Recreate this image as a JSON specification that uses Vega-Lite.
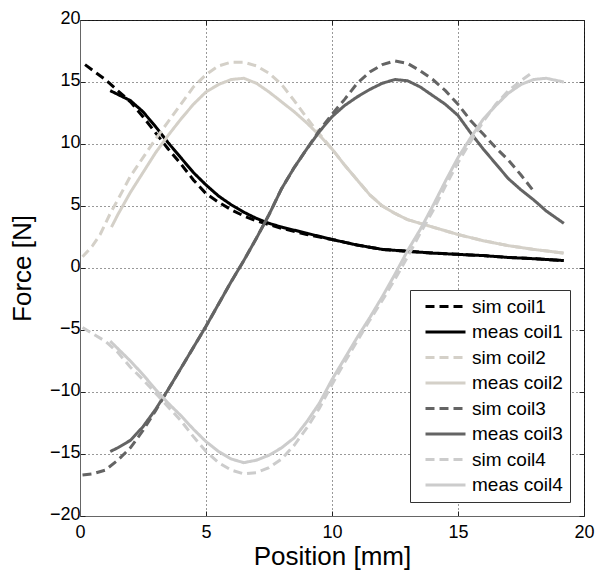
{
  "$schema": "https://vega.github.io/schema/vega-lite/v6.json",
  "width": 504,
  "height": 496,
  "autosize": {"type": "none"},
  "padding": {"left": 80, "top": 20, "right": 13, "bottom": 54},
  "background": "white",
  "config": {
    "view": {"stroke": "#222", "strokeWidth": 1},
    "font": "Liberation Sans",
    "axis": {
      "labelFont": "Liberation Sans",
      "titleFont": "Liberation Sans",
      "labelFontSize": 18,
      "titleFontSize": 26,
      "titleFontWeight": "normal",
      "labelColor": "#000",
      "titleColor": "#000",
      "domainColor": "#666",
      "tickColor": "#222",
      "tickSize": -5,
      "gridColor": "#000",
      "gridDash": [1, 3],
      "gridOpacity": 0.8,
      "gridWidth": 1
    }
  },
  "data": {"values": [
    {"s":"sim coil1","x":0.2,"y":16.4},{"s":"sim coil1","x":0.6,"y":15.8},{"s":"sim coil1","x":1.0,"y":15.2},{"s":"sim coil1","x":1.5,"y":14.3},{"s":"sim coil1","x":2.0,"y":13.4},{"s":"sim coil1","x":2.5,"y":12.2},{"s":"sim coil1","x":3.0,"y":10.9},{"s":"sim coil1","x":3.5,"y":9.6},{"s":"sim coil1","x":4.0,"y":8.4},{"s":"sim coil1","x":4.5,"y":7.1},{"s":"sim coil1","x":5.0,"y":6.0},{"s":"sim coil1","x":5.5,"y":5.3},{"s":"sim coil1","x":6.0,"y":4.7},{"s":"sim coil1","x":6.5,"y":4.2},{"s":"sim coil1","x":7.0,"y":3.8},{"s":"sim coil1","x":7.5,"y":3.5},{"s":"sim coil1","x":8.0,"y":3.2},{"s":"sim coil1","x":9.0,"y":2.7},{"s":"sim coil1","x":10.0,"y":2.3},{"s":"sim coil1","x":11.0,"y":1.85},{"s":"sim coil1","x":12.0,"y":1.5},{"s":"sim coil1","x":13.0,"y":1.35},{"s":"sim coil1","x":14.0,"y":1.2},{"s":"sim coil1","x":15.0,"y":1.1},{"s":"sim coil1","x":16.0,"y":1.0},{"s":"sim coil1","x":17.0,"y":0.85},{"s":"sim coil1","x":18.0,"y":0.75},{"s":"sim coil1","x":19.2,"y":0.6},

    {"s":"meas coil1","x":1.2,"y":14.3},{"s":"meas coil1","x":1.5,"y":14.0},{"s":"meas coil1","x":2.0,"y":13.5},{"s":"meas coil1","x":2.5,"y":12.6},{"s":"meas coil1","x":3.0,"y":11.4},{"s":"meas coil1","x":3.5,"y":10.1},{"s":"meas coil1","x":4.0,"y":8.9},{"s":"meas coil1","x":4.5,"y":7.7},{"s":"meas coil1","x":5.0,"y":6.7},{"s":"meas coil1","x":5.5,"y":5.8},{"s":"meas coil1","x":6.0,"y":5.1},{"s":"meas coil1","x":6.5,"y":4.5},{"s":"meas coil1","x":7.0,"y":4.0},{"s":"meas coil1","x":7.5,"y":3.6},{"s":"meas coil1","x":8.0,"y":3.3},{"s":"meas coil1","x":9.0,"y":2.8},{"s":"meas coil1","x":10.0,"y":2.3},{"s":"meas coil1","x":11.0,"y":1.85},{"s":"meas coil1","x":12.0,"y":1.5},{"s":"meas coil1","x":13.0,"y":1.35},{"s":"meas coil1","x":14.0,"y":1.2},{"s":"meas coil1","x":15.0,"y":1.1},{"s":"meas coil1","x":16.0,"y":1.0},{"s":"meas coil1","x":17.0,"y":0.85},{"s":"meas coil1","x":18.0,"y":0.75},{"s":"meas coil1","x":19.2,"y":0.6},

    {"s":"sim coil2","x":0.1,"y":0.9},{"s":"sim coil2","x":0.5,"y":1.8},{"s":"sim coil2","x":0.8,"y":2.7},{"s":"sim coil2","x":1.2,"y":4.4},{"s":"sim coil2","x":1.5,"y":5.5},{"s":"sim coil2","x":2.0,"y":7.4},{"s":"sim coil2","x":2.5,"y":8.9},{"s":"sim coil2","x":3.0,"y":10.4},{"s":"sim coil2","x":3.5,"y":11.8},{"s":"sim coil2","x":4.0,"y":13.2},{"s":"sim coil2","x":4.5,"y":14.6},{"s":"sim coil2","x":5.0,"y":15.6},{"s":"sim coil2","x":5.5,"y":16.3},{"s":"sim coil2","x":6.0,"y":16.6},{"s":"sim coil2","x":6.5,"y":16.6},{"s":"sim coil2","x":7.0,"y":16.3},{"s":"sim coil2","x":7.5,"y":15.7},{"s":"sim coil2","x":8.0,"y":14.8},{"s":"sim coil2","x":8.5,"y":13.5},{"s":"sim coil2","x":9.0,"y":12.1},{"s":"sim coil2","x":9.5,"y":10.8},{"s":"sim coil2","x":10.0,"y":9.6},{"s":"sim coil2","x":10.5,"y":8.3},{"s":"sim coil2","x":11.0,"y":7.1},{"s":"sim coil2","x":11.5,"y":5.9},{"s":"sim coil2","x":12.0,"y":5.0},{"s":"sim coil2","x":12.5,"y":4.4},{"s":"sim coil2","x":13.0,"y":3.9},{"s":"sim coil2","x":13.5,"y":3.6},{"s":"sim coil2","x":14.0,"y":3.3},{"s":"sim coil2","x":15.0,"y":2.7},{"s":"sim coil2","x":16.0,"y":2.2},{"s":"sim coil2","x":17.0,"y":1.8},{"s":"sim coil2","x":18.0,"y":1.5},{"s":"sim coil2","x":19.2,"y":1.2},

    {"s":"meas coil2","x":1.25,"y":3.3},{"s":"meas coil2","x":1.5,"y":4.3},{"s":"meas coil2","x":2.0,"y":6.1},{"s":"meas coil2","x":2.5,"y":7.7},{"s":"meas coil2","x":3.0,"y":9.3},{"s":"meas coil2","x":3.5,"y":10.7},{"s":"meas coil2","x":4.0,"y":12.0},{"s":"meas coil2","x":4.5,"y":13.2},{"s":"meas coil2","x":5.0,"y":14.2},{"s":"meas coil2","x":5.5,"y":14.8},{"s":"meas coil2","x":6.0,"y":15.2},{"s":"meas coil2","x":6.5,"y":15.3},{"s":"meas coil2","x":7.0,"y":14.9},{"s":"meas coil2","x":7.5,"y":14.2},{"s":"meas coil2","x":8.0,"y":13.4},{"s":"meas coil2","x":8.5,"y":12.6},{"s":"meas coil2","x":9.0,"y":11.7},{"s":"meas coil2","x":9.5,"y":10.7},{"s":"meas coil2","x":10.0,"y":9.6},{"s":"meas coil2","x":10.5,"y":8.3},{"s":"meas coil2","x":11.0,"y":7.1},{"s":"meas coil2","x":11.5,"y":5.9},{"s":"meas coil2","x":12.0,"y":5.0},{"s":"meas coil2","x":12.5,"y":4.4},{"s":"meas coil2","x":13.0,"y":3.9},{"s":"meas coil2","x":13.5,"y":3.6},{"s":"meas coil2","x":14.0,"y":3.3},{"s":"meas coil2","x":15.0,"y":2.7},{"s":"meas coil2","x":16.0,"y":2.2},{"s":"meas coil2","x":17.0,"y":1.8},{"s":"meas coil2","x":18.0,"y":1.5},{"s":"meas coil2","x":19.2,"y":1.2},

    {"s":"sim coil3","x":0.1,"y":-16.7},{"s":"sim coil3","x":0.5,"y":-16.6},{"s":"sim coil3","x":1.0,"y":-16.3},{"s":"sim coil3","x":1.5,"y":-15.5},{"s":"sim coil3","x":2.0,"y":-14.5},{"s":"sim coil3","x":2.5,"y":-13.1},{"s":"sim coil3","x":3.0,"y":-11.5},{"s":"sim coil3","x":3.5,"y":-9.8},{"s":"sim coil3","x":4.0,"y":-8.1},{"s":"sim coil3","x":4.5,"y":-6.4},{"s":"sim coil3","x":5.0,"y":-4.7},{"s":"sim coil3","x":5.5,"y":-2.9},{"s":"sim coil3","x":6.0,"y":-1.1},{"s":"sim coil3","x":6.5,"y":0.6},{"s":"sim coil3","x":7.0,"y":2.4},{"s":"sim coil3","x":7.5,"y":4.3},{"s":"sim coil3","x":8.0,"y":6.4},{"s":"sim coil3","x":8.5,"y":8.1},{"s":"sim coil3","x":9.0,"y":9.6},{"s":"sim coil3","x":9.5,"y":11.1},{"s":"sim coil3","x":10.0,"y":12.4},{"s":"sim coil3","x":10.5,"y":13.6},{"s":"sim coil3","x":11.0,"y":14.9},{"s":"sim coil3","x":11.5,"y":15.8},{"s":"sim coil3","x":12.0,"y":16.4},{"s":"sim coil3","x":12.5,"y":16.7},{"s":"sim coil3","x":13.0,"y":16.5},{"s":"sim coil3","x":13.5,"y":15.9},{"s":"sim coil3","x":14.0,"y":15.2},{"s":"sim coil3","x":14.5,"y":14.3},{"s":"sim coil3","x":15.0,"y":13.2},{"s":"sim coil3","x":15.5,"y":11.9},{"s":"sim coil3","x":16.0,"y":10.8},{"s":"sim coil3","x":16.5,"y":9.7},{"s":"sim coil3","x":17.0,"y":8.7},{"s":"sim coil3","x":17.5,"y":7.5},{"s":"sim coil3","x":18.0,"y":6.2},

    {"s":"meas coil3","x":1.2,"y":-14.8},{"s":"meas coil3","x":1.5,"y":-14.5},{"s":"meas coil3","x":2.0,"y":-13.9},{"s":"meas coil3","x":2.5,"y":-12.8},{"s":"meas coil3","x":3.0,"y":-11.4},{"s":"meas coil3","x":3.5,"y":-9.8},{"s":"meas coil3","x":4.0,"y":-8.1},{"s":"meas coil3","x":4.5,"y":-6.4},{"s":"meas coil3","x":5.0,"y":-4.7},{"s":"meas coil3","x":5.5,"y":-2.9},{"s":"meas coil3","x":6.0,"y":-1.1},{"s":"meas coil3","x":6.5,"y":0.6},{"s":"meas coil3","x":7.0,"y":2.4},{"s":"meas coil3","x":7.5,"y":4.3},{"s":"meas coil3","x":8.0,"y":6.4},{"s":"meas coil3","x":8.5,"y":8.1},{"s":"meas coil3","x":9.0,"y":9.6},{"s":"meas coil3","x":9.5,"y":11.0},{"s":"meas coil3","x":10.0,"y":12.2},{"s":"meas coil3","x":10.5,"y":13.1},{"s":"meas coil3","x":11.0,"y":13.8},{"s":"meas coil3","x":11.5,"y":14.4},{"s":"meas coil3","x":12.0,"y":14.9},{"s":"meas coil3","x":12.5,"y":15.2},{"s":"meas coil3","x":13.0,"y":15.1},{"s":"meas coil3","x":13.5,"y":14.6},{"s":"meas coil3","x":14.0,"y":13.9},{"s":"meas coil3","x":14.5,"y":13.2},{"s":"meas coil3","x":15.0,"y":12.3},{"s":"meas coil3","x":15.5,"y":10.9},{"s":"meas coil3","x":16.0,"y":9.6},{"s":"meas coil3","x":16.5,"y":8.4},{"s":"meas coil3","x":17.0,"y":7.2},{"s":"meas coil3","x":17.5,"y":6.3},{"s":"meas coil3","x":18.0,"y":5.5},{"s":"meas coil3","x":18.5,"y":4.6},{"s":"meas coil3","x":19.2,"y":3.6},

    {"s":"sim coil4","x":0.1,"y":-4.8},{"s":"sim coil4","x":0.5,"y":-5.3},{"s":"sim coil4","x":1.0,"y":-5.9},{"s":"sim coil4","x":1.5,"y":-6.8},{"s":"sim coil4","x":2.0,"y":-8.0},{"s":"sim coil4","x":2.5,"y":-9.0},{"s":"sim coil4","x":3.0,"y":-10.1},{"s":"sim coil4","x":3.5,"y":-11.2},{"s":"sim coil4","x":4.0,"y":-12.3},{"s":"sim coil4","x":4.5,"y":-13.6},{"s":"sim coil4","x":5.0,"y":-14.8},{"s":"sim coil4","x":5.5,"y":-15.7},{"s":"sim coil4","x":6.0,"y":-16.3},{"s":"sim coil4","x":6.5,"y":-16.6},{"s":"sim coil4","x":7.0,"y":-16.5},{"s":"sim coil4","x":7.5,"y":-16.1},{"s":"sim coil4","x":8.0,"y":-15.4},{"s":"sim coil4","x":8.5,"y":-14.3},{"s":"sim coil4","x":9.0,"y":-12.9},{"s":"sim coil4","x":9.5,"y":-11.3},{"s":"sim coil4","x":10.0,"y":-9.4},{"s":"sim coil4","x":10.5,"y":-7.6},{"s":"sim coil4","x":11.0,"y":-5.9},{"s":"sim coil4","x":11.5,"y":-4.2},{"s":"sim coil4","x":12.0,"y":-2.6},{"s":"sim coil4","x":12.5,"y":-0.9},{"s":"sim coil4","x":13.0,"y":0.9},{"s":"sim coil4","x":13.5,"y":2.8},{"s":"sim coil4","x":14.0,"y":4.6},{"s":"sim coil4","x":14.5,"y":6.6},{"s":"sim coil4","x":15.0,"y":8.5},{"s":"sim coil4","x":15.5,"y":10.2},{"s":"sim coil4","x":16.0,"y":11.8},{"s":"sim coil4","x":16.5,"y":13.2},{"s":"sim coil4","x":17.0,"y":14.3},{"s":"sim coil4","x":17.5,"y":15.1},{"s":"sim coil4","x":17.9,"y":15.7},

    {"s":"meas coil4","x":1.2,"y":-5.9},{"s":"meas coil4","x":1.5,"y":-6.5},{"s":"meas coil4","x":2.0,"y":-7.5},{"s":"meas coil4","x":2.5,"y":-8.6},{"s":"meas coil4","x":3.0,"y":-9.8},{"s":"meas coil4","x":3.5,"y":-10.9},{"s":"meas coil4","x":4.0,"y":-11.9},{"s":"meas coil4","x":4.5,"y":-13.0},{"s":"meas coil4","x":5.0,"y":-14.0},{"s":"meas coil4","x":5.5,"y":-14.8},{"s":"meas coil4","x":6.0,"y":-15.4},{"s":"meas coil4","x":6.5,"y":-15.7},{"s":"meas coil4","x":7.0,"y":-15.5},{"s":"meas coil4","x":7.5,"y":-15.1},{"s":"meas coil4","x":8.0,"y":-14.5},{"s":"meas coil4","x":8.5,"y":-13.7},{"s":"meas coil4","x":9.0,"y":-12.4},{"s":"meas coil4","x":9.5,"y":-10.9},{"s":"meas coil4","x":10.0,"y":-9.0},{"s":"meas coil4","x":10.5,"y":-7.3},{"s":"meas coil4","x":11.0,"y":-5.6},{"s":"meas coil4","x":11.5,"y":-4.0},{"s":"meas coil4","x":12.0,"y":-2.3},{"s":"meas coil4","x":12.5,"y":-0.5},{"s":"meas coil4","x":13.0,"y":1.4},{"s":"meas coil4","x":13.5,"y":3.1},{"s":"meas coil4","x":14.0,"y":5.0},{"s":"meas coil4","x":14.5,"y":7.0},{"s":"meas coil4","x":15.0,"y":8.9},{"s":"meas coil4","x":15.5,"y":10.5},{"s":"meas coil4","x":16.0,"y":12.0},{"s":"meas coil4","x":16.5,"y":13.1},{"s":"meas coil4","x":17.0,"y":14.1},{"s":"meas coil4","x":17.5,"y":14.8},{"s":"meas coil4","x":18.0,"y":15.2},{"s":"meas coil4","x":18.5,"y":15.3},{"s":"meas coil4","x":19.2,"y":15.0}
  ]},
  "layer": [
    {
      "mark": {"type": "line", "strokeWidth": 3, "clip": true},
      "encoding": {
        "x": {"field": "x", "type": "quantitative", "scale": {"domain": [0, 20], "nice": false, "zero": false},
              "axis": {"title": "Position [mm]", "values": [0, 5, 10, 15, 20], "grid": true, "labelPadding": 12, "titlePadding": 2, "labelFlush": false}},
        "y": {"field": "y", "type": "quantitative", "scale": {"domain": [-20, 20], "nice": false, "zero": false},
              "axis": {"title": "Force [N]", "values": [-20, -15, -10, -5, 0, 5, 10, 15, 20], "grid": true, "labelPadding": 5, "labelOffset": -2, "titlePadding": 14, "labelFlush": false}},
        "detail": {"field": "s"},
        "color": {"field": "s", "type": "nominal",
          "scale": {"domain": ["sim coil1","meas coil1","sim coil2","meas coil2","sim coil3","meas coil3","sim coil4","meas coil4"],
                    "range": ["#000000","#000000","#d4d0c8","#d4d0c8","#646464","#646464","#cccccc","#cccccc"]},
          "legend": {"title": null, "orient": "none", "legendX": 330, "legendY": 270,
            "symbolType": "M-4,0H4", "symbolSize": 100, "symbolStrokeWidth": 3, "symbolOffset": 19,
            "labelFontSize": 19, "labelFont": "Liberation Sans", "labelColor": "#000", "labelOffset": 17,
            "strokeColor": "#333", "fillColor": "white", "padding": 7, "rowPadding": 5.5, "labelLimit": 300}},
        "strokeDash": {"field": "s", "type": "nominal",
          "scale": {"domain": ["sim coil1","meas coil1","sim coil2","meas coil2","sim coil3","meas coil3","sim coil4","meas coil4"],
                    "range": [[9,5],[1,0],[9,5],[1,0],[9,5],[1,0],[9,5],[1,0]]},
          "legend": {"title": null, "orient": "none", "legendX": 330, "legendY": 270,
            "symbolType": "M-4,0H4", "symbolSize": 100, "symbolStrokeWidth": 3, "symbolOffset": 19,
            "labelFontSize": 19, "labelFont": "Liberation Sans", "labelColor": "#000", "labelOffset": 17,
            "strokeColor": "#333", "fillColor": "white", "padding": 7, "rowPadding": 5.5, "labelLimit": 300}}
      }
    },
    {
      "mark": {"type": "line", "opacity": 0},
      "encoding": {
        "x": {"field": "x", "type": "quantitative",
              "axis": {"orient": "top", "title": null, "labels": false, "grid": false, "domain": false, "values": [0, 5, 10, 15, 20]}},
        "y": {"field": "y", "type": "quantitative",
              "axis": {"orient": "right", "title": null, "labels": false, "grid": false, "domain": false, "values": [-20, -15, -10, -5, 0, 5, 10, 15, 20]}},
        "detail": {"field": "s"}
      }
    }
  ],
  "resolve": {"axis": {"x": "independent", "y": "independent"}}
}
